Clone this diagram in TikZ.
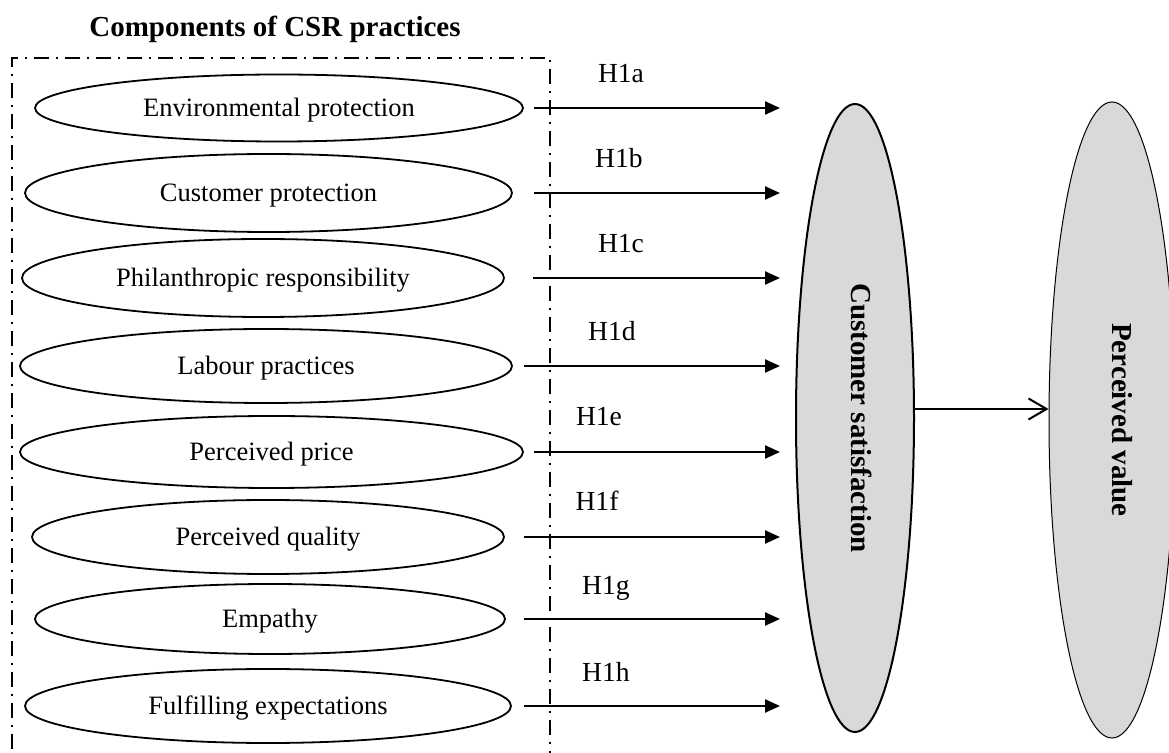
\documentclass[tikz,border=0pt]{standalone}
\usepackage{fontspec}
\setmainfont{Liberation Serif}
\usetikzlibrary{shapes.geometric,arrows.meta}
\begin{document}
\begin{tikzpicture}[x=0.5pt,y=-0.5pt,
  factor/.style={draw,line width=0.9pt,ellipse,inner sep=0pt,
    text height=9.5pt,text depth=0.5pt,
    font=\fontsize{13.25pt}{15pt}\selectfont},
  outcome/.style={draw,ellipse,inner sep=0pt,fill=gray!30},
  vlabel/.style={rotate=-90,font=\fontsize{14.5pt}{17pt}\selectfont\bfseries},
  hlabel/.style={anchor=base,font=\fontsize{13.8pt}{16pt}\selectfont},
  hyp/.style={line width=1.2pt,-{Triangle[length=7.5pt,width=6.5pt]}},
  link/.style={line width=1pt,-{Straight Barb[length=9pt,width=10.5pt,line width=1pt]}},
  groupbox/.style={line width=0.55pt,dash pattern=on 7.5pt off 3.5pt on 1pt off 3.5pt}]
\useasboundingbox (0,0) rectangle (1169,753);
\begin{scope}
\clip (0,0) rectangle (1169,753);

% group title and dash-dot frame (open at the bottom)
\node[font=\fontsize{14.5pt}{17pt}\selectfont\bfseries] (title) at (275,29) {Components of CSR practices};
\draw[groupbox] (12,780) -- (12,58) -- (550,58) -- (550,780);

% CSR components (sizes in pt = half the pixel extent)
\node[factor,minimum width=244pt,minimum height=33.5pt] (e1) at (279,108) {Environmental protection};
\node[factor,minimum width=243.5pt,minimum height=39pt] (e2) at (268.5,193) {Customer protection};
\node[factor,minimum width=241pt,minimum height=39pt] (e3) at (263,278) {Philanthropic responsibility};
\node[factor,minimum width=246pt,minimum height=37pt] (e4) at (266,366) {Labour practices};
\node[factor,minimum width=251.5pt,minimum height=36pt] (e5) at (271.5,452) {Perceived price};
\node[factor,minimum width=236pt,minimum height=37pt] (e6) at (268,537) {Perceived quality};
\node[factor,minimum width=235pt,minimum height=35pt] (e7) at (270,619) {Empathy};
\node[factor,minimum width=243pt,minimum height=37pt] (e8) at (268,706) {Fulfilling expectations};

% outcome constructs
\node[outcome,line width=1pt,minimum width=59pt,minimum height=314pt] (cs) at (855,418) {};
\node[outcome,line width=0.5pt,minimum width=63pt,minimum height=318pt] (pv) at (1112,420) {};
\node[vlabel] (cst) at (862,418) {Customer satisfaction};
\node[vlabel] (pvt) at (1122,420) {Perceived value};

% hypothesis arrow end points
\coordinate (t1) at (780,108);
\coordinate (t2) at (780,193);
\coordinate (t3) at (780,278);
\coordinate (t4) at (780,366);
\coordinate (t5) at (780,452);
\coordinate (t6) at (780,537);
\coordinate (t7) at (780,619);
\coordinate (t8) at (780,706);

\draw[hyp] (e1.east) ++(10,0) -- (t1);
\draw[hyp] (e2.east) ++(21,0) -- (t2);
\draw[hyp] (e3.east) ++(28,0) -- (t3);
\draw[hyp] (e4.east) ++(11,0) -- (t4);
\draw[hyp] (e5.east) ++(10,0) -- (t5);
\draw[hyp] (e6.east) ++(19,0) -- (t6);
\draw[hyp] (e7.east) ++(18,0) -- (t7);
\draw[hyp] (e8.east) ++(12,0) -- (t8);

% hypothesis labels
\node[hlabel] (h1a) at (621,83) {H1a};
\node[hlabel] (h1b) at (619,168) {H1b};
\node[hlabel] (h1c) at (621,253) {H1c};
\node[hlabel] (h1d) at (612,341) {H1d};
\node[hlabel] (h1e) at (599,426) {H1e};
\node[hlabel] (h1f) at (597,511) {H1f};
\node[hlabel] (h1g) at (606,595) {H1g};
\node[hlabel] (h1h) at (606,682) {H1h};

% satisfaction -> value
\draw[link] (cs.east |- 0,409) -- (pv.west |- 0,409);
\end{scope}
\end{tikzpicture}
\end{document}
